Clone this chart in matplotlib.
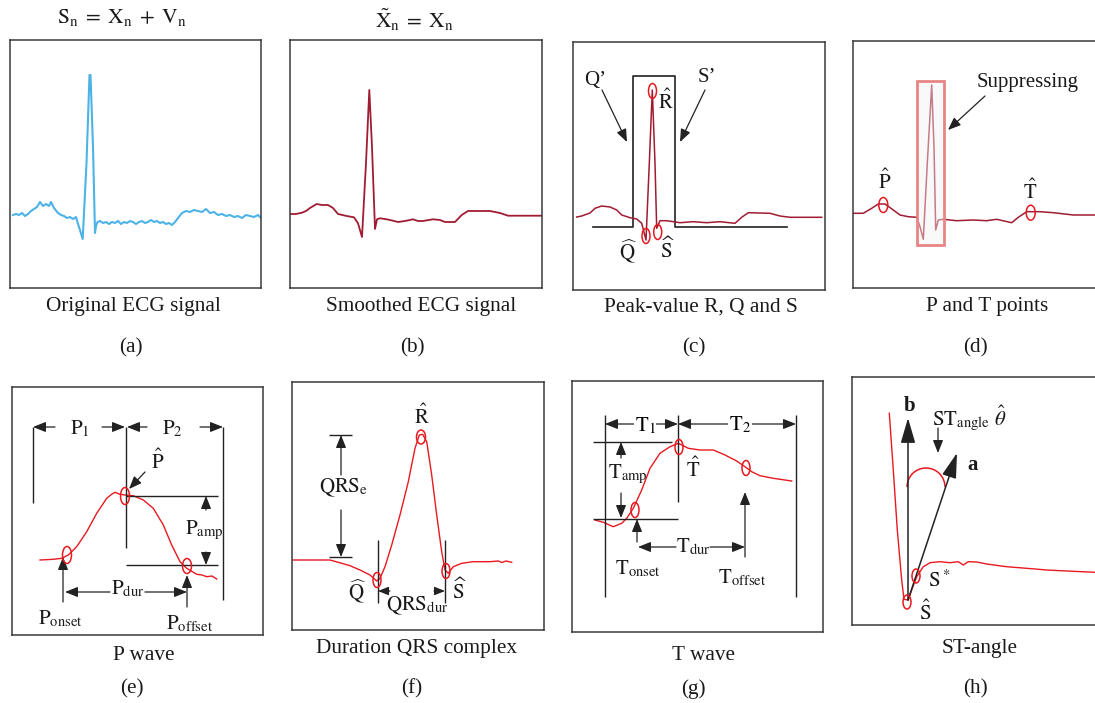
import numpy as np
import matplotlib.pyplot as plt
from matplotlib.patches import Ellipse, Rectangle, Arc

plt.rcParams['font.family'] = 'serif'
plt.rcParams['font.serif'] = ['Liberation Serif', 'DejaVu Serif']
plt.rcParams['mathtext.fontset'] = 'stix'

W, H = 1095, 703
RED = '#e8191f'
MAROON = '#a01c32'
BLUE = '#4db3e6'
INK = '#222222'

# ---- signal samples (time, amplitude) ----
ecg_raw = np.array([
    (3, 73), (6, 74), (9, 73), (12, 75), (15, 72), (18, 74), (21, 77), (24, 79),
    (27, 81), (30, 86), (33, 82), (36, 84), (39, 82), (41, 86), (44, 80), (48, 75),
    (51, 73), (54, 72), (57, 70), (60, 71), (63, 69), (66, 71), (68, 64), (70, 58),
    (72.7, 49), (76.5, 125), (79.5, 213), (80.5, 213), (83, 141), (85, 55), (86, 62),
    (87.5, 66), (90, 67), (93, 65), (96, 66), (99, 64), (102, 66), (105, 65), (108, 67),
    (111, 64), (114, 66), (117, 65), (120, 67), (123, 66), (126, 64), (129, 66),
    (132, 67), (135, 65), (138, 66), (141, 68), (144, 66), (147, 67), (150, 65),
    (153, 66), (156, 64), (159, 65), (162, 63), (165, 66), (168, 70), (172, 75),
    (176, 77), (180, 76), (184, 78), (188, 77), (192, 76), (196, 79), (200, 75),
    (204, 76), (208, 73), (212, 74), (216, 72), (220, 73), (224, 71), (228, 72),
    (232, 70), (236, 73), (240, 72), (244, 71), (248, 73), (251, 70)])

ecg_smooth = np.array([
    (0, 74), (6, 74), (12, 75.3), (16, 77), (20, 80), (26.7, 84), (32, 83), (38, 83),
    (43, 80), (48, 74), (56.7, 72), (64, 70.7), (68, 64.7), (72, 51), (76, 125),
    (79.3, 198), (82, 141), (85, 59), (87, 68.7), (90, 69.7), (95, 69), (100, 68),
    (108, 66), (115, 67), (123, 68.7), (128, 67), (133, 67), (143, 68.7), (150, 68),
    (155, 66), (165, 66), (171.7, 73), (178, 77), (200, 77), (210, 75), (218, 72.3),
    (252, 72.3)])

ecg_peaks = np.array([
    (3.7, 73), (8.7, 74), (17, 77), (22, 81.7), (28.7, 84), (37, 83), (43.7, 80),
    (48.7, 75), (57, 72.3), (63.7, 71), (68.7, 66.7), (73, 50), (76.3, 126.7),
    (79.3, 200), (82, 126.7), (83.7, 61.7), (87, 69.3), (93.7, 69.3), (107, 67.3),
    (120, 68.3), (133.7, 67.3), (147, 68.3), (162, 66.7), (168.7, 72.7),
    (175.3, 77.3), (197, 76.7), (207, 74), (217, 72.7), (248.7, 72.7)])
qrs_window_t = [20, 60, 60, 102, 102, 214]
qrs_window_v = [63, 63, 214, 214, 63, 63]
peaks_c = {'R': (79.5, 199), 'Q': (73, 54), 'S': (84.7, 58)}

ecg_pt = np.array([
    (0, 74.7), (10.3, 74.7), (18.7, 79.7), (25.3, 84), (32, 84), (40.3, 78), (47, 73),
    (55.3, 71.3), (63.7, 70.7), (67, 61.3), (70.3, 48.7), (74.3, 124.7), (78.7, 203),
    (81, 141), (82.7, 58), (85.3, 68), (90.3, 68.7), (103.7, 67.3), (120.3, 68),
    (133.7, 67.3), (143.7, 68.7), (158.7, 65.3), (165.3, 70.7), (173.7, 76.3),
    (187, 76.3), (200.3, 75.3), (220.3, 73), (252, 73)])
suppress_t = (64, 91)
suppress_v = (43, 207)
peaks_d = {'P': (30.3, 83), 'T': (177.7, 75.3)}

p_wave = np.array([
    (28, 75), (41.3, 75.7), (49.7, 76.7), (56.3, 80), (64.7, 88.3), (74.7, 103.3),
    (84.7, 121.7), (94.7, 136.7), (100, 141), (103, 142.7), (108, 140.7), (113, 140),
    (121.3, 139.3), (131.3, 135), (141.3, 126.7), (151.3, 110), (159.7, 90),
    (168, 73.3), (174.7, 66.7), (184.7, 60.7), (190, 60), (194.7, 58.3), (200, 59),
    (204.7, 56)])
points_e = {'onset': (55, 80), 'peak': (113, 139), 'offset': (175, 69)}

qrs_wave = np.array([
    (0.7, 70), (38, 70), (46.3, 67.7), (58, 64.3), (68, 60), (78, 55), (84.7, 49),
    (88, 51.7), (93, 63.3), (99.7, 85), (108, 115), (116.3, 148.3), (123, 181.7),
    (127.3, 195), (130.7, 195.7), (134.7, 188.3), (139.7, 155), (144.7, 115),
    (149.7, 78.3), (153, 60), (156.3, 56.7), (161.3, 63.3), (169.7, 66.7),
    (181.3, 68.3), (198, 68.3), (206.3, 69), (210, 67.5), (214, 69), (219.7, 67.7)])
points_f = {'R': (129, 193), 'Q': (85, 50), 'S': (154, 59)}

t_wave = np.array([
    (23, 112), (31.3, 109.7), (41.3, 105.3), (49.7, 108.7), (54.7, 113.7),
    (61.3, 123.7), (69.7, 142), (78, 163.7), (88, 178.7), (98, 185.3), (106.3, 188.7),
    (111.3, 186.3), (116.3, 183.7), (128, 182), (141.3, 182), (153, 177),
    (164.7, 171), (173, 165.3), (179.7, 160.3), (188, 156.3), (201.3, 153.7),
    (219.7, 151)])
points_g = {'T': (107, 185), 'onset': (63, 122), 'offset': (174, 164)}

st_segment = np.array([
    (37.3, 211.7), (41.3, 155), (45.3, 95), (49.7, 45), (52, 25.7), (56.3, 25),
    (59.7, 35), (64.7, 48.3), (71.3, 58.3), (78, 62.3), (88, 63.3), (98, 62.3),
    (106.3, 63.3), (111.3, 60), (116.3, 63.3), (124.7, 63), (134.7, 61),
    (154.7, 58.3), (174.7, 56.7), (194.7, 55), (214.7, 54), (243, 52.7)])
points_h = {'S': (55, 23), 'Sstar': (64, 49)}
vec_origin = (56, 25)
vec_b = (56, 207)
vec_a = (105, 172)

fig = plt.figure(figsize=(W / 100, H / 100), dpi=100)
fig.patch.set_facecolor('white')

LBL = 15


def panel(left, top, w, h):
    ax = fig.add_axes([left / W, 1 - (top + h) / H, w / W, h / H])
    ax.set_xlim(0, w)
    ax.set_ylim(0, h)
    ax.set_xticks([])
    ax.set_yticks([])
    for s in ax.spines.values():
        s.set_color('#3a3a3a')
        s.set_linewidth(1.1)
    return ax


def ring(ax, xy, w=8, h=15, color=RED):
    ax.add_patch(Ellipse(xy, w, h, fill=False, ec=color, lw=1.1, zorder=5))


def arrow(ax, start, end, scale=11, hl=0.7, hw=0.28, lw=0.9):
    ax.annotate('', xy=end, xytext=start, annotation_clip=False,
                arrowprops=dict(arrowstyle=f'-|>,head_length={hl},head_width={hw}',
                                color=INK, lw=lw, shrinkA=0, shrinkB=0,
                                mutation_scale=scale))


def line(ax, xs, ys, lw=1.0):
    ax.plot(xs, ys, color=INK, lw=lw, solid_capstyle='butt')


def label(ax, x, y, s, size=LBL, **kw):
    ax.text(x, y, s, ha='center', va='center', fontsize=size, color='#1a1a1a', **kw)


def ftext(x, y, s, size=15.3):
    fig.text(x / W, 1 - y / H, s, ha='center', va='center', fontsize=size, color='#1a1a1a')


# (a) original
ax = panel(10, 40, 251, 248)
ax.plot(*ecg_raw.T, color=BLUE, lw=1.5)

# (b) smoothed
ax = panel(290, 40, 252, 248)
ax.plot(*ecg_smooth.T, color=MAROON, lw=1.3)

# (c) peaks
ax = panel(573, 42, 252, 248)
ax.plot(qrs_window_t, qrs_window_v, color=INK, lw=1.2)
ax.plot(*ecg_peaks.T, color=MAROON, lw=1.1)
for k in peaks_c:
    ring(ax, peaks_c[k])
label(ax, 93, 188, r'$\hat{\mathrm{R}}$')
label(ax, 55, 38, r'$\widehat{\mathrm{Q}}$')
label(ax, 95, 40, r'$\widehat{\mathrm{S}}$')
label(ax, 22, 210, 'Q’')
label(ax, 134, 213, 'S’')
arrow(ax, (29, 200), (54, 148))
arrow(ax, (132, 200), (107, 148))

# (d) P and T
ax = panel(853, 41, 252, 247)
ax.plot(*ecg_pt.T, color=MAROON, lw=1.1)
ax.add_patch(Rectangle((suppress_t[0], suppress_v[0]), suppress_t[1] - suppress_t[0],
                       suppress_v[1] - suppress_v[0], fc='#f2f2f2', ec='none',
                       alpha=0.45, zorder=4))
ax.add_patch(Rectangle((suppress_t[0], suppress_v[0]), suppress_t[1] - suppress_t[0],
                       suppress_v[1] - suppress_v[0], fill=False, ec='#e88585',
                       lw=2, zorder=4))
for k in peaks_d:
    ring(ax, peaks_d[k], 9, 15)
label(ax, 32, 106, r'$\hat{\mathrm{P}}$')
label(ax, 177, 96, r'$\hat{\mathrm{T}}$')
ax.text(124, 206, 'Suppressing', ha='left', va='center', fontsize=LBL, color='#1a1a1a')
arrow(ax, (132, 192), (95, 158))

# (e) P wave
ax = panel(12, 387, 251, 248)
ax.plot(*p_wave.T, color=RED, lw=1.0)
ring(ax, points_e['onset'], 9, 17)
ring(ax, points_e['peak'], 9, 17)
ring(ax, points_e['offset'], 9, 15)
line(ax, [21, 21], [208, 132])
line(ax, [114, 114], [208, 87])
line(ax, [211, 211], [208, 35])
arrow(ax, (43, 208), (21, 208))
arrow(ax, (90, 208), (113, 208))
arrow(ax, (135, 208), (115, 208))
arrow(ax, (188, 208), (211, 208))
label(ax, 68, 206, r'$\mathrm{P}_1$')
label(ax, 160, 206, r'$\mathrm{P}_2$')
label(ax, 146, 173, r'$\hat{\mathrm{P}}$')
arrow(ax, (133, 163), (117, 146))
line(ax, [114, 206], [139, 139])
line(ax, [114, 206], [70, 70])
arrow(ax, (194, 125), (194, 139))
arrow(ax, (194, 83), (194, 70))
label(ax, 192, 105, r'$\mathrm{P}_{\mathrm{amp}}$')
arrow(ax, (51, 33), (51, 78))
label(ax, 48, 16, r'$\mathrm{P}_{\mathrm{onset}}$')
arrow(ax, (175, 28), (175, 60))
label(ax, 178, 11, r'$\mathrm{P}_{\mathrm{offset}}$')
arrow(ax, (98, 43), (53, 43))
arrow(ax, (133, 43), (175, 43))
label(ax, 116, 46, r'$\mathrm{P}_{\mathrm{dur}}$')

# (f) QRS duration
ax = panel(292, 382, 252, 248)
ax.plot(*qrs_wave.T, color=RED, lw=1.0)
ring(ax, points_f['R'], 9, 14)
ring(ax, points_f['Q'], 8, 15)
ring(ax, points_f['S'], 8, 15)
line(ax, [37, 60], [195, 195])
line(ax, [37, 60], [73, 73])
arrow(ax, (49, 155), (49, 195))
arrow(ax, (49, 120), (49, 73))
label(ax, 52, 142, r'$\mathrm{QRS}_{\mathrm{e}}$')
label(ax, 130, 213, r'$\hat{\mathrm{R}}$')
line(ax, [86, 86], [90, 27])
line(ax, [153, 153], [90, 27])
arrow(ax, (98, 39), (86, 39), scale=9)
arrow(ax, (142, 39), (153, 39), scale=9)
label(ax, 65, 38, r'$\widehat{\mathrm{Q}}$')
label(ax, 168, 39, r'$\widehat{\mathrm{S}}$')
label(ax, 125, 24, r'$\mathrm{QRS}_{\mathrm{dur}}$')

# (g) T wave
ax = panel(572, 381, 251, 251)
ax.plot(*t_wave.T, color=RED, lw=1.0)
ring(ax, points_g['T'], 8, 15)
ring(ax, points_g['onset'], 8, 15)
ring(ax, points_g['offset'], 8, 15)
line(ax, [33, 33], [217, 35])
line(ax, [106, 106], [217, 130])
line(ax, [224, 224], [217, 35])
for x0, x1 in [(33, 106), (106, 224)]:
    ax.annotate('', xy=(x0, 208), xytext=(x1, 208),
                arrowprops=dict(arrowstyle='<|-|>,head_length=0.7,head_width=0.28',
                                color=INK, lw=0.9, shrinkA=0, shrinkB=0,
                                mutation_scale=11))
ax.text(73, 206, r'$\mathrm{T}_1$', ha='center', va='center', fontsize=LBL,
        bbox=dict(fc='white', ec='none', pad=0.5))
ax.text(168, 207, r'$\mathrm{T}_2$', ha='center', va='center', fontsize=LBL,
        bbox=dict(fc='white', ec='none', pad=0.5))
line(ax, [21, 100], [190, 190])
line(ax, [21, 106], [113, 113])
arrow(ax, (49, 174), (49, 190))
arrow(ax, (49, 139), (49, 114))
label(ax, 56, 158, r'$\mathrm{T}_{\mathrm{amp}}$')
label(ax, 121, 162, r'$\hat{\mathrm{T}}$')
arrow(ax, (65, 90), (65, 113))
label(ax, 66, 63, r'$\mathrm{T}_{\mathrm{onset}}$')
arrow(ax, (173, 75), (173, 140))
label(ax, 170, 54, r'$\mathrm{T}_{\mathrm{offset}}$')
arrow(ax, (104, 85), (66, 85))
arrow(ax, (138, 85), (173, 85))
label(ax, 121, 85, r'$\mathrm{T}_{\mathrm{dur}}$')

# (h) ST angle
ax = panel(852, 377, 252, 248)
ax.plot(*st_segment.T, color=RED, lw=1.0)
ring(ax, points_h['S'], 8, 14)
ring(ax, points_h['Sstar'], 8, 14)
arrow(ax, vec_origin, vec_b, scale=14, hl=1.1, hw=0.32, lw=1.1)
arrow(ax, vec_origin, vec_a, scale=14, hl=1.1, hw=0.32, lw=1.1)
ax.add_patch(Arc((74, 138), 38, 38, theta1=0, theta2=180, color=RED, lw=1.1))
label(ax, 58, 219, 'b', fontweight='bold')
label(ax, 121, 160, 'a', fontweight='bold')
ax.text(80, 207, r'$\mathrm{ST}_{\mathrm{angle}}\ \hat{\theta}$', ha='left', va='center',
        fontsize=LBL, color='#1a1a1a')
arrow(ax, (86, 197), (86, 172))
label(ax, 87, 44, r'$\mathrm{S}^*$')
label(ax, 73, 12, r'$\hat{\mathrm{S}}$')

# titles, captions, panel letters
ftext(122, 18, r'$\mathrm{S_n\;=\;X_n\;+\;V_n}$', 15.5)
ftext(415, 20, r'$\tilde{\mathrm{X}}_\mathrm{n}\;=\;\mathrm{X}_\mathrm{n}$', 15.5)
for x, s in [(133, 'Original ECG signal'), (421, 'Smoothed ECG signal'),
             (701, 'Peak-value R, Q and S'), (987, 'P and T points')]:
    ftext(x, 307, s)
for x, s in [(131, '(a)'), (412, '(b)'), (694, '(c)'), (975, '(d)')]:
    ftext(x, 348, s)
for x, y, s in [(144, 656, 'P wave'), (417, 648, 'Duration QRS complex'),
                (703, 655, 'T wave'), (980, 648, 'ST-angle')]:
    ftext(x, y, s)
for x, s in [(132, '(e)'), (412, '(f)'), (693, '(g)'), (975, '(h)')]:
    ftext(x, 689, s)

fig.savefig('out.png', dpi=100, facecolor='white')
